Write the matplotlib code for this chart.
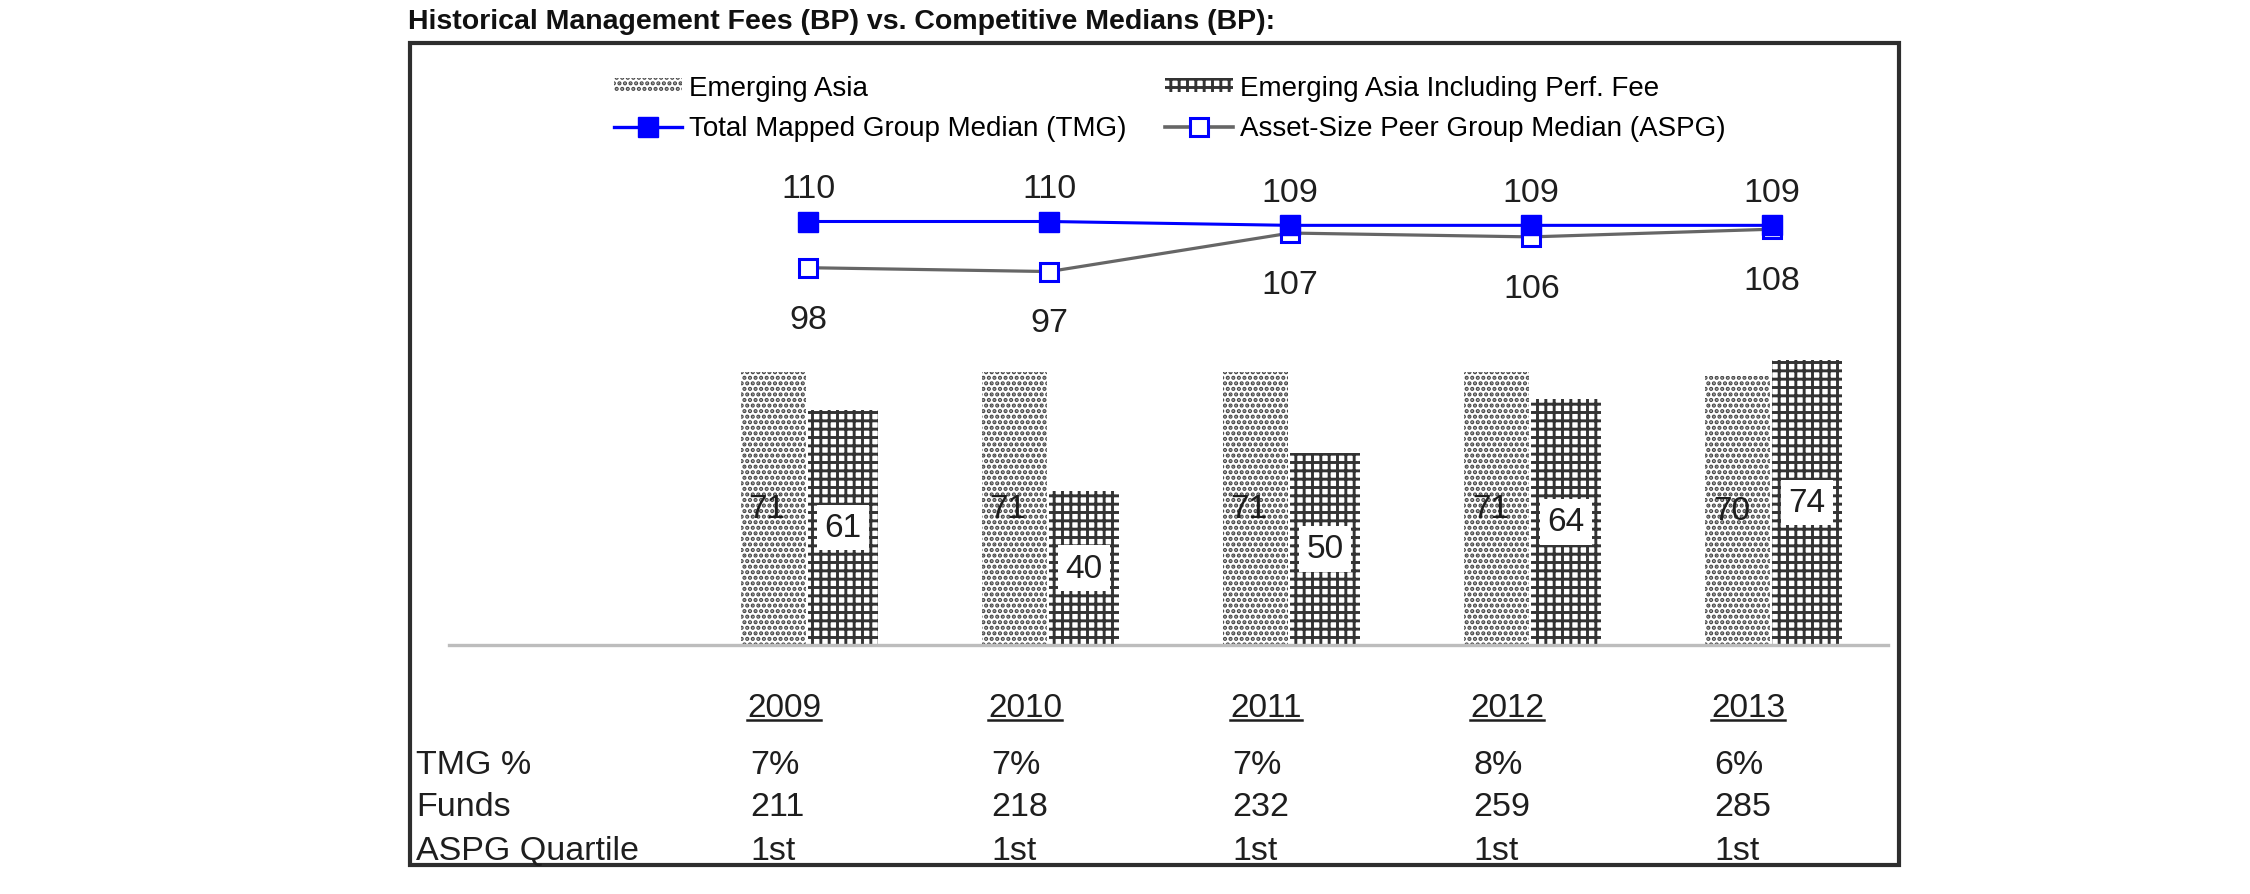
import matplotlib
matplotlib.use("Agg")
import numpy as np
import matplotlib.pyplot as plt
import matplotlib.transforms as mtransforms
from matplotlib.lines import Line2D
from matplotlib.patches import Patch, Rectangle

plt.rcParams["font.family"] = ["Liberation Sans", "DejaVu Sans"]
plt.rcParams["hatch.linewidth"] = 2.1

# datos
YEARS = ["2009", "2010", "2011", "2012", "2013"]
EMERGING_ASIA = [71, 71, 71, 71, 70]
EMERGING_ASIA_PERF = [61, 40, 50, 64, 74]
TMG_MEDIAN = [110, 110, 109, 109, 109]
ASPG_MEDIAN = [98, 97, 107, 106, 108]
TMG_PCT = ["7%", "7%", "7%", "8%", "6%"]
FUNDS = ["211", "218", "232", "259", "285"]
ASPG_QUARTILE = ["1st", "1st", "1st", "1st", "1st"]
ROW_LABELS = ["TMG %", "Funds", "ASPG Quartile"]

W, H = 2250, 895
BLUE = "#0000ff"
GRAY_LINE = "#666666"
DOTS = "#444444"
GRID = "#333333"
TXT = "#1e1e1e"

fig = plt.figure(figsize=(W / 100, H / 100), dpi=100)
ax = fig.add_axes([449 / W, (H - 646) / H, (1888 - 449) / W, 500.5 / H])
ax.set_xlim(-1.49, 4.48)
ax.set_ylim(0, 130)

x = np.arange(len(YEARS))
ax.bar(x - 0.143, EMERGING_ASIA, width=0.27, facecolor="white",
       edgecolor=DOTS, hatch="...", linewidth=0, zorder=2)
ax.bar(x + 0.145, EMERGING_ASIA_PERF, width=0.29, facecolor="white",
       edgecolor=GRID, hatch="++", linewidth=0, zorder=2)

for i, v in enumerate(EMERGING_ASIA):
    ax.text(i - 0.17, v / 2, str(v), ha="center", va="center", fontsize=24,
            color=TXT, zorder=3)
for i, v in enumerate(EMERGING_ASIA_PERF):
    ax.text(i + 0.145, v / 2, str(v), ha="center", va="center", fontsize=24,
            color=TXT, zorder=3,
            bbox=dict(boxstyle="square,pad=0.22", fc="white", ec="none"))

ax.plot(x, ASPG_MEDIAN, color=GRAY_LINE, lw=2.3, marker="s", ms=12.5,
        mfc="white", mec=BLUE, mew=2.2, zorder=4)
ax.plot(x, TMG_MEDIAN, color=BLUE, lw=2.2, marker="s", ms=14,
        mfc=BLUE, mec=BLUE, zorder=5)

for i, v in enumerate(TMG_MEDIAN):
    ax.annotate(str(v), (i, v), xytext=(0, 24), textcoords="offset points",
                ha="center", va="center", fontsize=24.5, color=TXT)
for i, v in enumerate(ASPG_MEDIAN):
    ax.annotate(str(v), (i, v), xytext=(0, -37), textcoords="offset points",
                ha="center", va="center", fontsize=24.5, color=TXT)

for s in ["top", "left", "right"]:
    ax.spines[s].set_visible(False)
ax.spines["bottom"].set_color("#bdbdbd")
ax.spines["bottom"].set_linewidth(2.4)
ax.set_xticks([])
ax.set_yticks([])
ax.patch.set_alpha(0)

# tabla bajo el gráfico
trans = mtransforms.blended_transform_factory(ax.transData, fig.transFigure)
year_texts = []
for i, yr in enumerate(YEARS):
    t = ax.text(i - 0.1, 1 - 709 / H, yr, transform=trans, ha="center",
                va="center", fontsize=24, color=TXT)
    year_texts.append(t)
rows = [TMG_PCT, FUNDS, ASPG_QUARTILE]
row_y = [766, 808, 852]
for lab, vals, yy in zip(ROW_LABELS, rows, row_y):
    fig.text(416 / W, 1 - yy / H, lab, ha="left", va="center", fontsize=24.5,
             color=TXT)
    for i, v in enumerate(vals):
        ax.text(i - 0.24, 1 - yy / H, v, transform=trans, ha="left",
                va="center", fontsize=24.5, color=TXT)

# título y marco
fig.text(408 / W, 1 - 29 / H, "Historical Management Fees (BP) vs. Competitive Medians (BP):",
         ha="left", va="baseline", fontsize=20.5, fontweight="bold", color="#111111")
fig.patches.append(Rectangle((410 / W, (H - 866) / H), (1899 - 410) / W, (866 - 44) / H,
                             transform=fig.transFigure, fill=False,
                             edgecolor="#2e2e2e", lw=3))

handles = [
    Patch(facecolor="white", edgecolor=DOTS, hatch="...", linewidth=0),
    Line2D([], [], color=BLUE, lw=2.4, marker="s", ms=14, mfc=BLUE, mec=BLUE),
    Patch(facecolor="white", edgecolor=GRID, hatch="++", linewidth=0),
    Line2D([], [], color=GRAY_LINE, lw=2.6, marker="s", ms=12.5, mfc="white",
           mec=BLUE, mew=2.2),
]
labels = ["Emerging Asia", "Total Mapped Group Median (TMG)",
          "Emerging Asia Including Perf. Fee", "Asset-Size Peer Group Median (ASPG)"]
fig.legend(handles, labels, ncol=2, loc="upper left",
           bbox_to_anchor=(614 / W, 1 - 76 / H), frameon=False, fontsize=20,
           handlelength=2.45, handleheight=0.35, handletextpad=0.25,
           columnspacing=1.37, labelspacing=0.5, borderpad=0, borderaxespad=0)

# subrayado de los años
fig.canvas.draw()
renderer = fig.canvas.get_renderer()
for t in year_texts:
    bb = t.get_window_extent(renderer)
    fig.lines.append(Line2D([bb.x0 / W, bb.x1 / W], [(bb.y0 + 4) / H] * 2,
                            transform=fig.transFigure, color=TXT, lw=1.8))

fig.savefig("out.png", dpi=100)
